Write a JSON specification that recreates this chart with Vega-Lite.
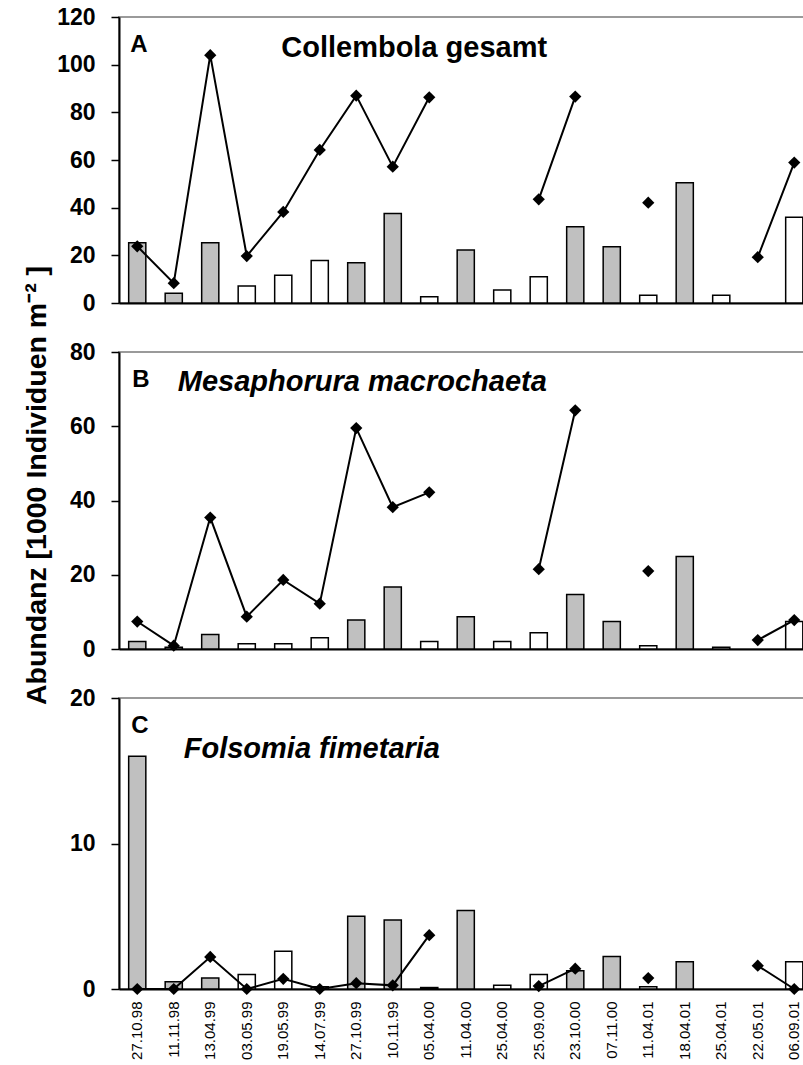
{
  "$schema": "https://vega.github.io/schema/vega-lite/v6.json",
  "padding": {"left": 20, "top": 5, "right": 0, "bottom": 0},
  "background": "white",
  "bounds": "flush",
  "config": {
    "font": "Liberation Sans",
    "view": {"stroke": "#9a9a9a", "strokeWidth": 2},
    "axis": {"grid": false, "domainColor": "black", "domainWidth": 2, "tickColor": "black", "tickWidth": 1.5, "labelColor": "black", "titleColor": "black"},
    "concat": {"spacing": 49}
  },
  "datasets": {
    "d": [
      {"date": "27.10.98", "group": "g", "A_bar": 25.3, "A_line": 23.8, "B_bar": 2.0, "B_line": 7.4, "C_bar": 16.0, "C_line": 0},
      {"date": "11.11.98", "group": "g", "A_bar": 4.1, "A_line": 8.3, "B_bar": 0.5, "B_line": 0.9, "C_bar": 0.5, "C_line": 0},
      {"date": "13.04.99", "group": "g", "A_bar": 25.3, "A_line": 104, "B_bar": 3.9, "B_line": 35.4, "C_bar": 0.75, "C_line": 2.2},
      {"date": "03.05.99", "group": "w", "A_bar": 7.1, "A_line": 19.7, "B_bar": 1.4, "B_line": 8.7, "C_bar": 1.0, "C_line": 0},
      {"date": "19.05.99", "group": "w", "A_bar": 11.6, "A_line": 38.2, "B_bar": 1.4, "B_line": 18.6, "C_bar": 2.6, "C_line": 0.7},
      {"date": "14.07.99", "group": "w", "A_bar": 17.8, "A_line": 64.2, "B_bar": 3.0, "B_line": 12.2, "C_bar": 0.15, "C_line": 0},
      {"date": "27.10.99", "group": "g", "A_bar": 16.9, "A_line": 87, "B_bar": 7.8, "B_line": 59.5, "C_bar": 5.0, "C_line": 0.4},
      {"date": "10.11.99", "group": "g", "A_bar": 37.6, "A_line": 57.2, "B_bar": 16.7, "B_line": 38.2, "C_bar": 4.75, "C_line": 0.25},
      {"date": "05.04.00", "group": "w", "A_bar": 2.6, "A_line": 86.3, "B_bar": 2.0, "B_line": 42.2, "C_bar": 0.1, "C_line": 3.7},
      {"date": "11.04.00", "group": "g", "A_bar": 22.2, "A_line": null, "B_bar": 8.7, "B_line": null, "C_bar": 5.4, "C_line": null},
      {"date": "25.04.00", "group": "w", "A_bar": 5.5, "A_line": null, "B_bar": 2.0, "B_line": null, "C_bar": 0.25, "C_line": null},
      {"date": "25.09.00", "group": "w", "A_bar": 11.0, "A_line": 43.5, "B_bar": 4.4, "B_line": 21.5, "C_bar": 1.0, "C_line": 0.2},
      {"date": "23.10.00", "group": "g", "A_bar": 32.0, "A_line": 86.6, "B_bar": 14.7, "B_line": 64.3, "C_bar": 1.25, "C_line": 1.4},
      {"date": "07.11.00", "group": "g", "A_bar": 23.6, "A_line": null, "B_bar": 7.4, "B_line": null, "C_bar": 2.24, "C_line": null},
      {"date": "11.04.01", "group": "w", "A_bar": 3.2, "A_line": 42.1, "B_bar": 0.9, "B_line": 21.0, "C_bar": 0.15, "C_line": 0.75},
      {"date": "18.04.01", "group": "g", "A_bar": 50.5, "A_line": null, "B_bar": 24.9, "B_line": null, "C_bar": 1.87, "C_line": null},
      {"date": "25.04.01", "group": "w", "A_bar": 3.2, "A_line": null, "B_bar": 0.5, "B_line": null, "C_bar": null, "C_line": null},
      {"date": "22.05.01", "group": "w", "A_bar": null, "A_line": 19.2, "B_bar": null, "B_line": 2.4, "C_bar": null, "C_line": 1.6},
      {"date": "06.09.01", "group": "w", "A_bar": 36.0, "A_line": 58.9, "B_bar": 7.4, "B_line": 7.8, "C_bar": 1.87, "C_line": 0}
    ]
  },
  "vconcat": [
    {
      "width": 693.5,
      "height": 286,
      "data": {"name": "d"},
      "encoding": {
        "x": {"field": "date", "type": "nominal", "sort": null, "scale": {"domain": ["27.10.98", "11.11.98", "13.04.99", "03.05.99", "19.05.99", "14.07.99", "27.10.99", "10.11.99", "05.04.00", "11.04.00", "25.04.00", "25.09.00", "23.10.00", "07.11.00", "11.04.01", "18.04.01", "25.04.01", "22.05.01", "06.09.01"], "paddingInner": 0.53, "paddingOuter": 0.265}, "axis": {"title": null, "labels": false, "ticks": false, "tickSize": 0}}
      },
      "layer": [
        {
          "mark": {"type": "bar", "stroke": "black", "strokeWidth": 1.5},
          "encoding": {
            "y": {"field": "A_bar", "type": "quantitative", "scale": {"domain": [0, 120], "nice": false}, "axis": {"title": null, "values": [0, 20, 40, 60, 80, 100, 120], "labelFontSize": 23, "labelFontWeight": "bold", "tickSize": 8, "labelPadding": 16}},
            "fill": {"field": "group", "type": "nominal", "scale": {"domain": ["g", "w"], "range": ["#c0c0c0", "#ffffff"]}, "legend": null}
          }
        },
        {
          "mark": {"type": "line", "color": "black", "strokeWidth": 2},
          "encoding": {"y": {"field": "A_line", "type": "quantitative"}}
        },
        {
          "mark": {"type": "point", "shape": "diamond", "filled": true, "color": "black", "size": 150, "opacity": 1},
          "encoding": {"y": {"field": "A_line", "type": "quantitative"}}
        },
        {
          "data": {"values": [{}]},
          "mark": {"type": "text", "text": "A", "fontSize": 24, "fontWeight": "bold", "align": "left", "baseline": "alphabetic", "dx": -7, "color": "black"},
          "encoding": {"x": {"datum": "27.10.98"}, "y": {"datum": 105.3}}
        },
        {
          "data": {"values": [{}]},
          "mark": {"type": "text", "text": "Collembola gesamt", "fontSize": 29, "fontWeight": "bold", "align": "left", "baseline": "alphabetic", "dx": -2, "color": "black"},
          "encoding": {"x": {"datum": "19.05.99"}, "y": {"datum": 103.2}}
        }
      ]
    },
    {
      "width": 693.5,
      "height": 297,
      "data": {"name": "d"},
      "encoding": {
        "x": {"field": "date", "type": "nominal", "sort": null, "scale": {"domain": ["27.10.98", "11.11.98", "13.04.99", "03.05.99", "19.05.99", "14.07.99", "27.10.99", "10.11.99", "05.04.00", "11.04.00", "25.04.00", "25.09.00", "23.10.00", "07.11.00", "11.04.01", "18.04.01", "25.04.01", "22.05.01", "06.09.01"], "paddingInner": 0.53, "paddingOuter": 0.265}, "axis": {"title": null, "labels": false, "ticks": false, "tickSize": 0}}
      },
      "layer": [
        {
          "mark": {"type": "bar", "stroke": "black", "strokeWidth": 1.5},
          "encoding": {
            "y": {"field": "B_bar", "type": "quantitative", "scale": {"domain": [0, 80], "nice": false}, "axis": {"title": "Abundanz [1000 Individuen m⁻² ]", "titleFontSize": 28.5, "titleFontWeight": "bold", "titleAngle": -90, "titleAlign": "center", "titleBaseline": "alphabetic", "titleX": -74, "titleY": 133, "values": [0, 20, 40, 60, 80], "labelFontSize": 23, "labelFontWeight": "bold", "tickSize": 8, "labelPadding": 16}},
            "fill": {"field": "group", "type": "nominal", "scale": {"domain": ["g", "w"], "range": ["#c0c0c0", "#ffffff"]}, "legend": null}
          }
        },
        {
          "mark": {"type": "line", "color": "black", "strokeWidth": 2},
          "encoding": {"y": {"field": "B_line", "type": "quantitative"}}
        },
        {
          "mark": {"type": "point", "shape": "diamond", "filled": true, "color": "black", "size": 150, "opacity": 1},
          "encoding": {"y": {"field": "B_line", "type": "quantitative"}}
        },
        {
          "data": {"values": [{}]},
          "mark": {"type": "text", "text": "B", "fontSize": 24, "fontWeight": "bold", "align": "left", "baseline": "alphabetic", "dx": -5, "color": "black"},
          "encoding": {"x": {"datum": "27.10.98"}, "y": {"datum": 70.7}}
        },
        {
          "data": {"values": [{}]},
          "mark": {"type": "text", "text": "Mesaphorura macrochaeta", "fontSize": 29, "fontWeight": "bold", "fontStyle": "italic", "align": "left", "baseline": "alphabetic", "dx": 4, "color": "black"},
          "encoding": {"x": {"datum": "11.11.98"}, "y": {"datum": 69.4}}
        }
      ]
    },
    {
      "width": 693.5,
      "height": 291,
      "data": {"name": "d"},
      "encoding": {
        "x": {"field": "date", "type": "nominal", "sort": null, "scale": {"domain": ["27.10.98", "11.11.98", "13.04.99", "03.05.99", "19.05.99", "14.07.99", "27.10.99", "10.11.99", "05.04.00", "11.04.00", "25.04.00", "25.09.00", "23.10.00", "07.11.00", "11.04.01", "18.04.01", "25.04.01", "22.05.01", "06.09.01"], "paddingInner": 0.53, "paddingOuter": 0.265}, "axis": {"title": null, "ticks": false, "tickSize": 0, "labelAngle": -90, "labelFontSize": 15, "labelPadding": 12}}
      },
      "layer": [
        {
          "mark": {"type": "bar", "stroke": "black", "strokeWidth": 1.5},
          "encoding": {
            "y": {"field": "C_bar", "type": "quantitative", "scale": {"domain": [0, 20], "nice": false}, "axis": {"title": null, "values": [0, 10, 20], "labelFontSize": 23, "labelFontWeight": "bold", "tickSize": 8, "labelPadding": 16}},
            "fill": {"field": "group", "type": "nominal", "scale": {"domain": ["g", "w"], "range": ["#c0c0c0", "#ffffff"]}, "legend": null}
          }
        },
        {
          "mark": {"type": "line", "color": "black", "strokeWidth": 2},
          "encoding": {"y": {"field": "C_line", "type": "quantitative"}}
        },
        {
          "mark": {"type": "point", "shape": "diamond", "filled": true, "color": "black", "size": 150, "opacity": 1},
          "encoding": {"y": {"field": "C_line", "type": "quantitative"}}
        },
        {
          "data": {"values": [{}]},
          "mark": {"type": "text", "text": "C", "fontSize": 24, "fontWeight": "bold", "align": "left", "baseline": "alphabetic", "dx": -6, "color": "black"},
          "encoding": {"x": {"datum": "27.10.98"}, "y": {"datum": 17.6}}
        },
        {
          "data": {"values": [{}]},
          "mark": {"type": "text", "text": "Folsomia fimetaria", "fontSize": 29, "fontWeight": "bold", "fontStyle": "italic", "align": "left", "baseline": "alphabetic", "dx": 10, "color": "black"},
          "encoding": {"x": {"datum": "11.11.98"}, "y": {"datum": 15.9}}
        }
      ]
    }
  ]
}
